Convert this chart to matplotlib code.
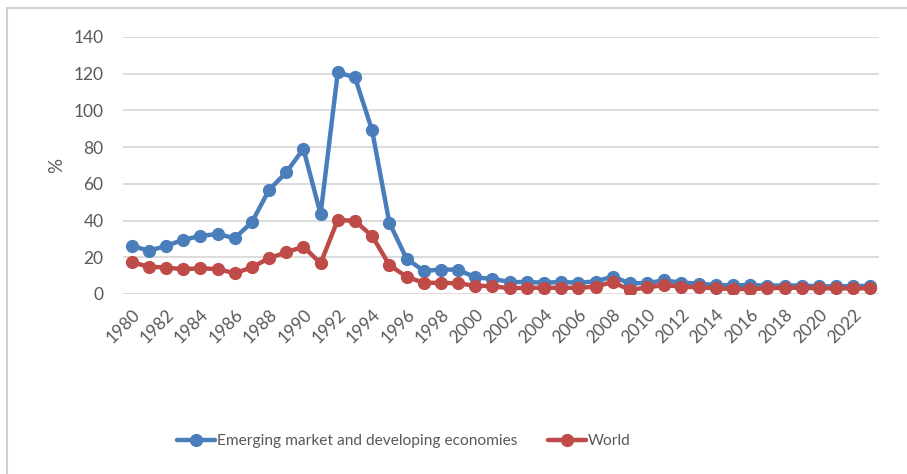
import matplotlib
matplotlib.use("Agg")
import matplotlib.pyplot as plt
from matplotlib.patches import Rectangle

years = list(range(1980, 2024))
emde = [26.4, 23.5, 26.2, 29.5, 31.6, 32.7, 30.4, 39.1, 56.7, 66.2,
        79.1, 43.5, 120.7, 118.0, 89.1, 38.9, 19.3, 12.6, 13.3, 13.3,
        9.0, 8.3, 6.5, 6.5, 6.2, 6.5, 6.2, 6.8, 9.5, 5.8,
        6.0, 7.4, 6.2, 5.7, 4.9, 4.8, 4.8, 4.6, 4.6, 4.6,
        4.2, 4.2, 4.3, 4.4]
world = [17.3, 14.9, 14.4, 13.5, 14.0, 13.6, 11.3, 14.5, 19.5, 22.7,
         25.8, 16.7, 40.4, 39.8, 31.6, 15.8, 9.4, 6.1, 6.1, 5.8,
         4.5, 4.3, 3.1, 3.4, 3.4, 3.4, 3.4, 4.0, 6.5, 2.2,
         3.6, 4.9, 4.0, 3.6, 3.1, 2.7, 2.7, 3.1, 3.4, 3.4,
         3.1, 3.1, 3.1, 3.1]
yticks = [0, 20, 40, 60, 80, 100, 120, 140]
series_names = ["Emerging market and developing economies", "World"]
colors = ["#4A7EBB", "#BE4B48"]

plt.rcParams['font.family'] = ['Lato', 'DejaVu Sans']
text_color = "#595959"

fig = plt.figure(figsize=(9.07, 4.74), dpi=100)
ax = fig.add_axes([123/907, 180/474, 756/907, 257/474])

x = list(range(len(years)))
for vals, name, c in zip([emde, world], series_names, colors):
    ax.plot(x, vals, color=c, lw=3.2, marker='o', markersize=8.5,
            label=name, solid_capstyle='round', solid_joinstyle='round')

ax.set_xlim(-0.5, len(years) - 0.5)
ax.set_ylim(0, 140)
ax.set_yticks(yticks)
ax.set_yticklabels([str(v) for v in yticks])
ax.grid(axis='y', color='#D9D9D9', lw=1.3)
ax.set_axisbelow(True)
for s in ax.spines.values():
    s.set_visible(False)
ax.set_xticks(x[::2])
ax.set_xticklabels([str(y) for y in years[::2]], rotation=45, ha='right',
                   rotation_mode='anchor')
ax.tick_params(axis='both', length=0, labelsize=12.5, colors=text_color)
ax.tick_params(axis='y', pad=14)
ax.tick_params(axis='x', pad=9)
ax.set_ylabel('%', fontsize=13.5, color=text_color, labelpad=6)

leg = fig.legend(loc='center', bbox_to_anchor=(404/907, 1 - 441/474), ncol=2,
                 frameon=False, handlelength=2.4, fontsize=11.2,
                 handletextpad=0.15, columnspacing=2.0, labelcolor=text_color)

fig.patches.append(Rectangle((7/907, -0.1), 1.2, 1 - 8/474 + 0.1,
                             transform=fig.transFigure, fill=False,
                             edgecolor='#D0D0D0', lw=1.5))

fig.savefig('out.png', dpi=100)
